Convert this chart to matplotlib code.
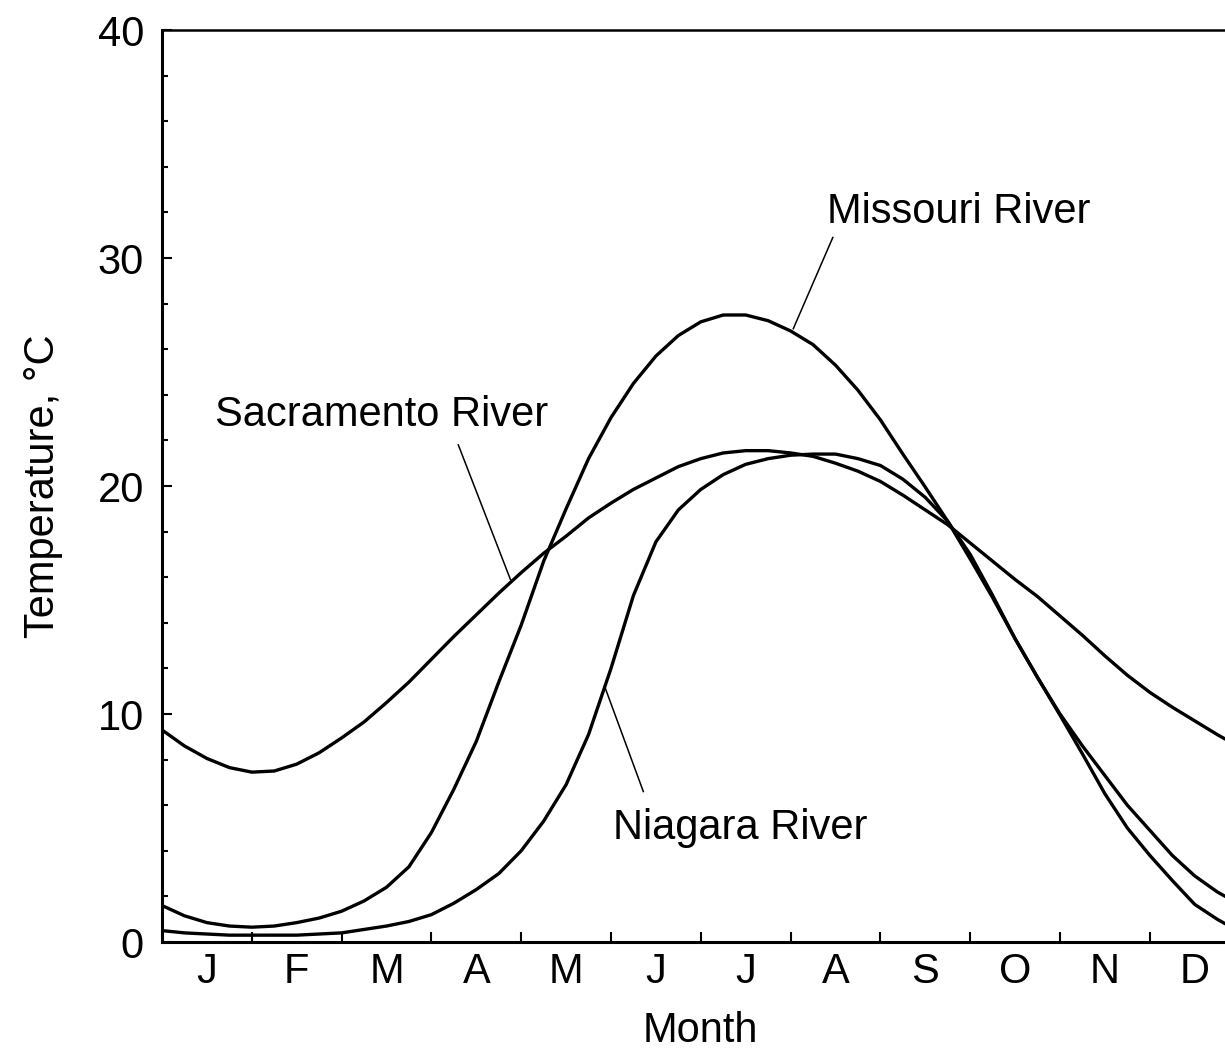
import numpy as np
import matplotlib
matplotlib.use("Agg")
import matplotlib.pyplot as plt

plt.rcParams['font.family'] = ['Liberation Sans', 'DejaVu Sans']

# month position (0 = start of Jan, 12 = end of Dec), read every quarter month
months_pos = [0, 0.25, 0.5, 0.75, 1, 1.25, 1.5, 1.75, 2, 2.25, 2.5, 2.75,
              3, 3.25, 3.5, 3.75, 4, 4.25, 4.5, 4.75, 5, 5.25, 5.5, 5.75,
              6, 6.25, 6.5, 6.75, 7, 7.25, 7.5, 7.75, 8, 8.25, 8.5, 8.75,
              9, 9.25, 9.5, 9.75, 10, 10.25, 10.5, 10.75, 11, 11.25, 11.5, 11.75, 11.84]

sacramento = [9.3, 8.6, 8.05, 7.65, 7.45, 7.5, 7.8, 8.3, 8.95, 9.65, 10.5, 11.4,
              12.4, 13.4, 14.35, 15.3, 16.2, 17.05, 17.8, 18.6, 19.25, 19.85, 20.35, 20.85,
              21.2, 21.45, 21.55, 21.55, 21.45, 21.3, 21.0, 20.65, 20.2, 19.6, 18.95, 18.3,
              17.5, 16.7, 15.9, 15.15, 14.3, 13.45, 12.55, 11.7, 10.95, 10.3, 9.7, 9.1, 8.9]
missouri = [1.6, 1.15, 0.85, 0.7, 0.65, 0.7, 0.85, 1.05, 1.35, 1.8, 2.4, 3.3,
            4.8, 6.7, 8.8, 11.4, 13.9, 16.7, 19.0, 21.2, 23.0, 24.5, 25.7, 26.6,
            27.2, 27.5, 27.5, 27.25, 26.8, 26.2, 25.3, 24.2, 22.9, 21.4, 19.95, 18.45,
            16.8, 15.1, 13.3, 11.6, 10.0, 8.6, 7.3, 6.0, 4.9, 3.8, 2.9, 2.2, 2.0]
niagara = [0.5, 0.4, 0.35, 0.3, 0.3, 0.3, 0.3, 0.35, 0.4, 0.55, 0.7, 0.9,
           1.2, 1.7, 2.3, 3.0, 4.0, 5.3, 6.9, 9.1, 12.0, 15.2, 17.55, 18.95,
           19.85, 20.5, 20.95, 21.2, 21.35, 21.4, 21.4, 21.2, 20.9, 20.3, 19.5, 18.45,
           17.0, 15.2, 13.3, 11.6, 9.95, 8.25, 6.5, 5.0, 3.8, 2.7, 1.65, 1.0, 0.8]

month_labels = ['J', 'F', 'M', 'A', 'M', 'J', 'J', 'A', 'S', 'O', 'N', 'D']

fig = plt.figure(figsize=(12.25, 10.53), dpi=100)
# axes runs a little past the right edge of the figure, like the scan
ax = fig.add_axes([162 / 1225, 111 / 1053, 1077.6 / 1225, 912 / 1053])

for series in (sacramento, missouri, niagara):
    ax.plot(months_pos, series, color='black', lw=2.4,
            solid_joinstyle='round', solid_capstyle='round')

ax.set_xlim(0, 12)
ax.set_ylim(0, 40)

# y axis: labelled every 10, small ticks every 2
ax.set_yticks([0, 10, 20, 30, 40])
ax.set_yticks(np.arange(0, 41, 2), minor=True)
ax.tick_params(axis='y', which='major', direction='in', length=7, width=1.5,
               labelsize=30, pad=13)
ax.tick_params(axis='y', which='minor', direction='in', length=4.5, width=1.5)

# x axis: ticks at month boundaries, letters in the middle of each month
ax.set_xticks(np.arange(1, 12))
ax.set_xticklabels([])
ax.set_xticks(np.arange(12) + 0.5, minor=True)
ax.set_xticklabels(month_labels, minor=True)
ax.tick_params(axis='x', which='major', direction='in', length=7, width=1.5)
ax.tick_params(axis='x', which='minor', length=0, labelsize=30, pad=7)

for side in ['left', 'bottom']:
    ax.spines[side].set_linewidth(2.2)
ax.spines['top'].set_linewidth(1.8)

ax.set_xlabel('Month', fontsize=30, labelpad=14)
ax.set_ylabel('Temperature, \u00b0C', fontsize=30, labelpad=25)

# curve labels with leader lines
ax.text(7.40, 32.0, 'Missouri River', fontsize=30, ha='left', va='center')
ax.plot([7.47, 7.03], [30.9, 26.9], color='black', lw=1.1)

ax.text(0.59, 23.1, 'Sacramento River', fontsize=30, ha='left', va='center')
ax.plot([3.30, 3.88], [21.8, 15.9], color='black', lw=1.1)

ax.text(5.02, 5.0, 'Niagara River', fontsize=30, ha='left', va='center')
ax.plot([4.93, 5.36], [11.2, 6.6], color='black', lw=1.1)

fig.savefig('out.png', dpi=100)
